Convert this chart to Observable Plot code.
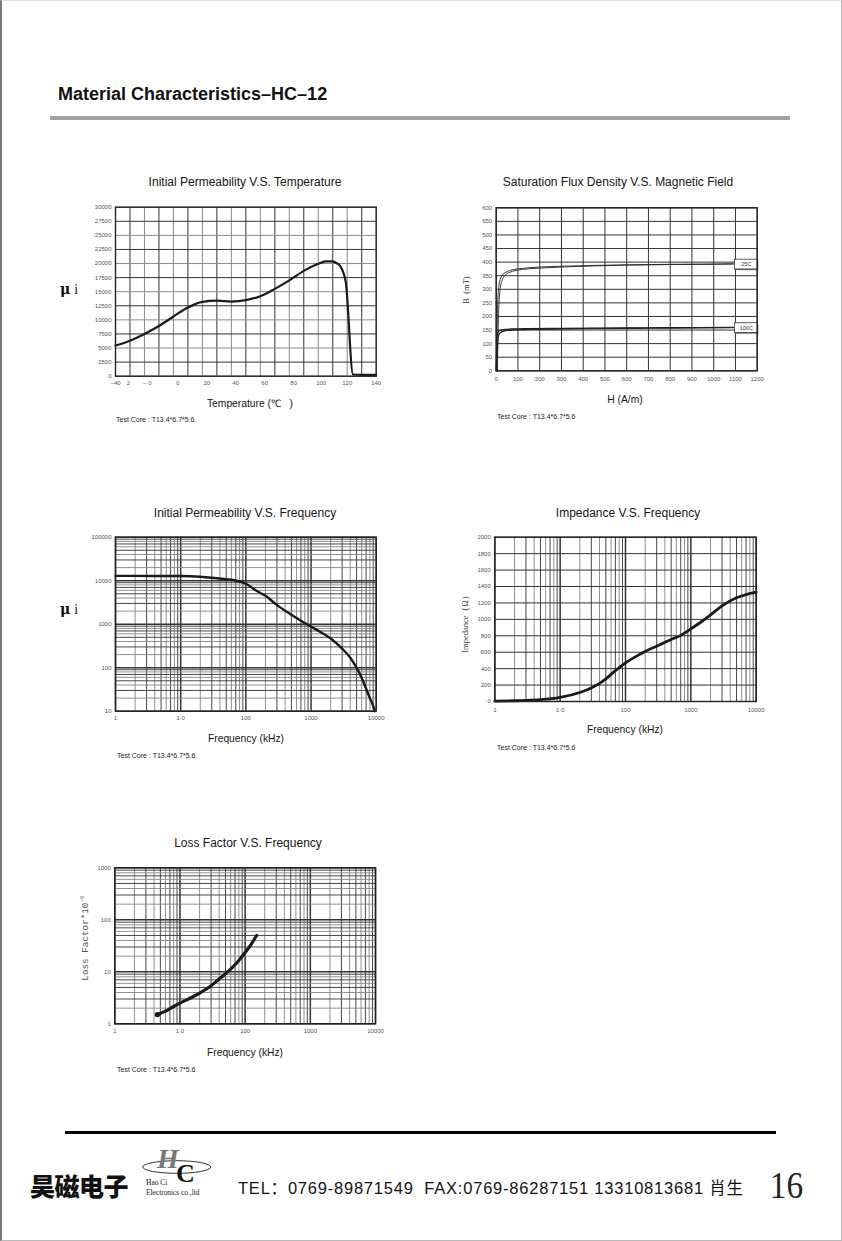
<!DOCTYPE html>
<html><head><meta charset="utf-8">
<script src="https://cdn.jsdelivr.net/npm/d3@7"></script>
<script src="https://cdn.jsdelivr.net/npm/@observablehq/plot@0.6"></script>
<style>
body{margin:0;background:#fff;}
#page{position:relative;width:842px;height:1241px;overflow:hidden;background:#fff;font-family:"Liberation Sans",Arial,sans-serif;color:#111;}
.t{position:absolute;white-space:nowrap;line-height:1;}
#border{position:absolute;left:0;top:0;width:842px;height:1241px;box-sizing:border-box;border-left:2px solid #777;border-top:1px solid #ddd;border-right:1px solid #bbb;border-bottom:1px solid #bbb;pointer-events:none;}
</style></head><body><div id="page"><div id="border"></div></div>
<script>
// ---------- data ----------
// Chart 1: Initial permeability vs temperature
const tempC = [-40,-30,-20,-10,0,10,20,30,40,50,60,70,80,90,100,105,110,112,115,117,119,124,130,140];
const muTemp = [5450,6300,7500,8900,10600,12200,13200,13400,13250,13500,14200,15500,17000,18700,19950,20400,20400,20150,19600,18600,16700,300,250,250];
const tempTickVals = [-40,-31,-18,3,23,43,63,83,102,120,140];
const tempTickLabels = ["\u221240","2","\u2212 0","0","20","40","60","80","100","120","140"];
const muTickVals = d3.range(0, 30001, 2500);

// Chart 2: Saturation flux density vs magnetic field
const sat25aH = [0,3,5,8,12,18,28,45,75,120,200,300,450,600,800,1000,1090];
const sat25aB = [0,100,200,270,310,335,352,363,372,377,382,385,388,390,392,393,394];
const sat25bH = [5,8,11,15,20,30,45,75,120,200,300,450,600,800,1000,1090];
const sat25bB = [0,110,210,275,312,338,355,366,373,378,382,386,389,391,392,393];
const sat100aH = [0,2,4,6,10,20,40,80,150,300,500,700,900,1090];
const sat100aB = [0,70,120,138,145,149,152,154,155,156,157,158,159,160];
const sat100bH = [4,6,9,13,20,35,60,100,200,400,700,1090];
const sat100bB = [0,95,122,134,141,146,149,151,153,155,157,159];
const satNames = ["25C","100C"];
const hTickVals = d3.range(0, 1201, 100);
const bTickVals = d3.range(0, 601, 50);

// Chart 3: Initial permeability vs frequency
const freqMu = [1,2,5,10,20,30,50,70,100,150,200,300,500,700,1000,1500,2000,3000,4000,5000,6000,7000,8000,9000,9500];
const muFreq = [12900,12900,12850,12800,12300,11700,10800,10100,8500,5700,4500,2750,1650,1200,880,620,470,275,170,100,58,33,20,13,10];
const muFreqTickVals = [10,100,1000,10000,100000];

// Chart 4: Impedance vs frequency
const freqZ = [1,2,3,5,10,20,30,40,50,70,100,150,200,300,500,700,1000,1500,2000,3000,5000,7000,10000];
const impZ = [5,9,13,22,50,110,165,220,275,375,470,555,610,673,755,805,884,980,1055,1165,1262,1302,1330];
const zTickVals = d3.range(0, 2001, 200);

// Chart 5: Loss factor vs frequency
const freqLF = [4.5,6,8,10,15,20,30,40,50,60,80,100,120,150];
const lossLF = [1.5,1.75,2.15,2.5,3.2,3.9,5.4,7.3,9.2,11.3,16.5,23.5,32,50];
const lfTickVals = [1,10,100,1000];

// shared frequency ticks
const fTickVals = [1,10,100,1000,10000];
const fTickLabels = ["1","1 0","100","1000","10000"];

// ---------- helpers ----------
const page = document.getElementById("page");
const FONT = "'Liberation Sans', Arial, sans-serif";

function addText(html, x, y, css = {}, ax = 0, ay = 0.5, extra = "") {
  const d = document.createElement("div");
  d.className = "t";
  d.innerHTML = html;
  Object.assign(d.style, {left: x + "px", top: y + "px", transform: `translate(${-ax*100}%, ${-ay*100}%) ${extra}`}, css);
  page.appendChild(d);
  return d;
}
function pts(xs, ys) { return xs.map((x, i) => ({x, y: ys[i]})); }
function gridMarks(list, dim) {
  const groups = d3.groups(list, d => d.c + "|" + d.w);
  return groups.map(([k, arr]) => {
    const [c, w] = k.split("|");
    const vals = arr.map(d => d.v);
    return dim === "x" ? Plot.ruleX(vals, {stroke: c, strokeWidth: +w}) : Plot.ruleY(vals, {stroke: c, strokeWidth: +w});
  });
}
function logGrid(lo, hi) {
  const out = [];
  for (let k = Math.round(Math.log10(lo)); k < Math.round(Math.log10(hi)); k++) {
    for (let m = 1; m <= 9; m++) {
      out.push({v: m * Math.pow(10, k), c: m === 1 ? "#333" : (m % 2 ? "#333" : "#858585"), w: m === 1 ? 1.5 : 0.9});
    }
  }
  out.push({v: hi, c: "#333", w: 1.5});
  return out;
}
function linGrid(vals, alt) {
  return vals.map((v, i) => ({v, c: alt && i % 2 === 0 ? "#8a8a8a" : "#333", w: 1}));
}
function chart(c) {
  const fx = d => { const i = c.xt.indexOf(d); return c.xl ? c.xl[i] : String(d); };
  const fy = d => String(d);
  const marks = [
    ...gridMarks(c.gx, "x"),
    ...gridMarks(c.gy, "y"),
    Plot.axisX(c.xt, {tickSize: 0, tickPadding: c.xpad, tickFormat: fx, fontSize: 6, fill: "#555", label: null}),
    Plot.axisY(c.yt, {tickSize: 0, tickPadding: 4, tickFormat: fy, fontSize: 6, fill: "#555", label: null}),
    ...c.marks,
    Plot.frame({stroke: "#222", strokeWidth: 1.4})
  ];
  const svg = Plot.plot({
    width: c.w, height: c.h,
    marginTop: c.mt, marginRight: c.mr, marginBottom: c.mb, marginLeft: c.ml,
    x: c.x, y: c.y,
    style: {fontFamily: FONT, background: "transparent", overflow: "visible"},
    marks
  });
  svg.style.position = "absolute";
  svg.style.left = c.left + "px";
  svg.style.top = c.top + "px";
  page.appendChild(svg);
}

// ---------- header ----------
addText("Material Characteristics\u2013HC\u201312", 58, 94, {fontSize: "18px", fontWeight: "bold", color: "#111"});
const bar = document.createElement("div");
Object.assign(bar.style, {position: "absolute", left: "50px", top: "116px", width: "740px", height: "3.5px", background: "#a3a3a3"});
page.appendChild(bar);

const titleCss = {fontSize: "12px", color: "#151515"};
const axCss = {fontSize: "10.3px", color: "#151515"};
const coreCss = {fontSize: "7px", color: "#222"};
const muHtml = "<span style=\"font-family:'DejaVu Serif';font-weight:bold\">\u03bc</span> <span style=\"font-family:'Liberation Serif'\">i</span>";

// ---------- chart 1 ----------
addText("Initial Permeability V.S. Temperature", 245, 182, titleCss, 0.5);
chart({
  left: 55, top: 195, w: 335, h: 195, mt: 11.7, mr: 14.3, mb: 14.3, ml: 60,
  x: {domain: [-40, 140]}, y: {domain: [0, 30000]},
  gx: linGrid(d3.range(-40, 141, 10), true), gy: linGrid(muTickVals, true),
  xt: tempTickVals, xl: tempTickLabels, xpad: 5, yt: muTickVals,
  marks: [Plot.line(pts(tempC, muTemp), {x: "x", y: "y", stroke: "#1a1a1a", strokeWidth: 2.2, curve: "monotone-x"})]
});
addText(muHtml, 60, 289, {fontSize: "14px", color: "#111"});
addText("Temperature (\u2103&nbsp;&nbsp;&nbsp;)", 250, 404, axCss, 0.5);
addText("Test Core : T13.4*6.7*5.6", 116, 419, coreCss);

// ---------- chart 2 ----------
addText("Saturation Flux Density V.S. Magnetic Field", 618, 182, titleCss, 0.5);
const satSeries = [pts(sat25aH, sat25aB), pts(sat25bH, sat25bB), pts(sat100aH, sat100aB), pts(sat100bH, sat100bB)];
const hMax = 1200;
const satLabels = satNames.map((name, i) => {
  const s = satSeries[i * 2];
  const last = s[s.length - 1];
  return {name, x1: last.x + 8, x2: hMax + 2, yc: last.y - 3, y1: last.y - 21, y2: last.y + 15};
});
chart({
  left: 455, top: 195, w: 320, h: 195, mt: 12.3, mr: 18.3, mb: 19.7, ml: 40.7,
  x: {domain: [0, hMax]}, y: {domain: [0, 600]},
  gx: linGrid(hTickVals, false), gy: linGrid(bTickVals, false),
  xt: hTickVals, xpad: 6, yt: bTickVals,
  marks: [
    ...satSeries.map((s, i) => Plot.line(s, {x: "x", y: "y", stroke: "#222", strokeWidth: i < 2 ? 0.9 : 1.3, curve: "monotone-x"})),
    Plot.rect(satLabels, {x1: "x1", x2: "x2", y1: "y1", y2: "y2", fill: "#777", dx: 1.2, dy: 1.2}),
    Plot.rect(satLabels, {x1: "x1", x2: "x2", y1: "y1", y2: "y2", fill: "#fff", stroke: "#333", strokeWidth: 0.8}),
    Plot.text(satLabels, {x: d => (d.x1 + d.x2) / 2, y: "yc", text: "name", fontSize: 5.5, fill: "#333"})
  ]
});
addText("B&nbsp;&nbsp;(mT)", 466, 290, {fontSize: "8.5px", fontFamily: "'Liberation Serif', serif", color: "#333"}, 0.5, 0.5, "rotate(-90deg)");
addText("H (A/m)", 625, 400, axCss, 0.5);
addText("Test Core : T13.4*6.7*5.6", 497, 416, coreCss);

// ---------- chart 3 ----------
addText("Initial Permeability V.S. Frequency", 245, 513, titleCss, 0.5);
chart({
  left: 55, top: 525, w: 335, h: 200, mt: 11.7, mr: 14.3, mb: 14.3, ml: 60,
  x: {type: "log", domain: [1, 10000]}, y: {type: "log", domain: [10, 100000]},
  gx: logGrid(1, 10000), gy: logGrid(10, 100000),
  xt: fTickVals, xl: fTickLabels, xpad: 5, yt: muFreqTickVals,
  marks: [Plot.line(pts(freqMu, muFreq), {x: "x", y: "y", stroke: "#1a1a1a", strokeWidth: 2.4, curve: "monotone-x"})]
});
addText(muHtml, 60, 609, {fontSize: "14px", color: "#111"});
addText("Frequency (kHz)", 246, 739, axCss, 0.5);
addText("Test Core : T13.4*6.7*5.6", 117, 755, coreCss);

// ---------- chart 4 ----------
addText("Impedance V.S. Frequency", 628, 513, titleCss, 0.5);
chart({
  left: 455, top: 525, w: 320, h: 195, mt: 11.7, mr: 19.3, mb: 19, ml: 39.3,
  x: {type: "log", domain: [1, 10000]}, y: {domain: [0, 2000]},
  gx: logGrid(1, 10000), gy: linGrid(zTickVals, false),
  xt: fTickVals, xl: fTickLabels, xpad: 6, yt: zTickVals,
  marks: [Plot.line(pts(freqZ, impZ), {x: "x", y: "y", stroke: "#1a1a1a", strokeWidth: 2.8, curve: "monotone-x"})]
});
addText("Impedance\uff08\u03a9\uff09", 465, 622, {fontSize: "8.5px", fontFamily: "'Liberation Serif', serif", color: "#444"}, 0.5, 0.5, "rotate(-90deg)");
addText("Frequency (kHz)", 625, 730, axCss, 0.5);
addText("Test Core : T13.4*6.7*5.6", 497, 747, coreCss);

// ---------- chart 5 ----------
addText("Loss Factor V.S. Frequency", 248, 843, titleCss, 0.5);
const lfData = pts(freqLF, lossLF);
chart({
  left: 75, top: 855, w: 315, h: 185, mt: 12.3, mr: 15, mb: 16.7, ml: 39.3,
  x: {type: "log", domain: [1, 10000]}, y: {type: "log", domain: [1, 1000]},
  gx: logGrid(1, 10000), gy: logGrid(1, 1000),
  xt: fTickVals, xl: fTickLabels, xpad: 5, yt: lfTickVals,
  marks: [
    Plot.line(lfData, {x: "x", y: "y", stroke: "#1a1a1a", strokeWidth: 3.2, curve: "monotone-x"}),
    Plot.dot(lfData.slice(0, 1), {x: "x", y: "y", r: 2.6, fill: "#1a1a1a"})
  ]
});
addText("Loss Factor*10<span style=\"font-size:6px;vertical-align:4px\">-6</span>", 85, 938, {fontSize: "9.3px", fontFamily: "'Liberation Mono', monospace", color: "#555"}, 0.5, 0.5, "rotate(-90deg)");
addText("Frequency (kHz)", 245, 1053, axCss, 0.5);
addText("Test Core : T13.4*6.7*5.6", 117, 1069, coreCss);

// ---------- footer ----------
const fl = document.createElement("div");
Object.assign(fl.style, {position: "absolute", left: "65px", top: "1131px", width: "711px", height: "3px", background: "#000"});
page.appendChild(fl);
addText("\u660a\u78c1\u7535\u5b50", 30, 1185, {fontSize: "25px", fontWeight: "900", fontFamily: "'Noto Sans CJK SC', sans-serif", color: "#111", letterSpacing: "-0.5px"});
const logo = document.createElementNS("http://www.w3.org/2000/svg", "svg");
logo.setAttribute("width", "90"); logo.setAttribute("height", "60");
Object.assign(logo.style, {position: "absolute", left: "135px", top: "1142px", overflow: "visible"});
logo.innerHTML = `
 <ellipse cx="41.7" cy="25" rx="34" ry="6.3" fill="none" stroke="#333" stroke-width="1"/>
 <text x="22" y="25.5" font-family="Liberation Serif" font-style="italic" font-weight="bold" font-size="28" fill="#777">H</text>
 <text x="41" y="40" font-family="Liberation Serif" font-weight="bold" font-size="26" fill="#111">C</text>
 <text x="11" y="43" font-family="Liberation Serif" font-size="7.5" fill="#222">Hao Ci</text>
 <text x="11" y="52.5" font-family="Liberation Serif" font-size="7.4" fill="#222">Electronics co.,ltd</text>`;
page.appendChild(logo);
const tel = addText("TEL\uff1a0769-89871549  FAX:0769-86287151 13310813681 \u8096\u751f", 238, 1188, {fontSize: "16.5px", color: "#111", whiteSpace: "pre", fontFamily: "'Liberation Sans Narrow', 'Liberation Sans', 'Noto Sans CJK SC', sans-serif"});
const tw = tel.getBoundingClientRect().width;
tel.style.letterSpacing = ((505 - tw) / (tel.textContent.length - 1)) + "px";
addText("16", 805, 1185, {fontSize: "37px", fontFamily: "'Liberation Serif', serif", color: "#222"}, 1, 0.5, "scaleX(0.9)");
</script></body></html>
